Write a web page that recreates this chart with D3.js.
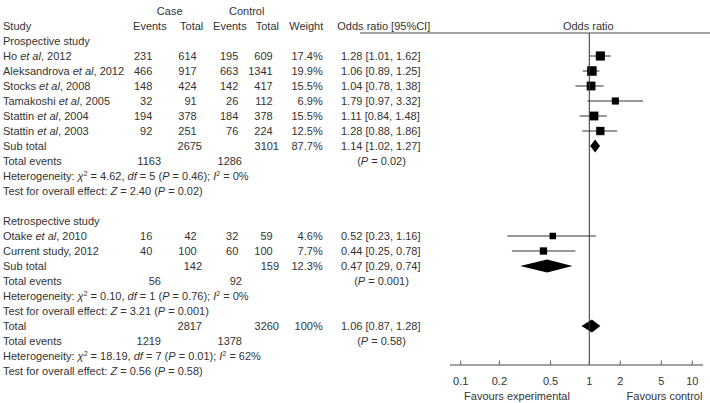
<!DOCTYPE html>
<html>
<head>
<meta charset="utf-8">
<script src="https://cdn.jsdelivr.net/npm/d3@7"></script>
<style>
  body { margin: 0; background: #fff; }
  text { font-family: "Liberation Sans", Arial, sans-serif; font-size: 11px; fill: #333; }
</style>
</head>
<body>
<svg id="chart" width="710" height="403"></svg>
<script>
// study level data
var studies = ["Ho et al, 2012", "Aleksandrova et al, 2012", "Stocks et al, 2008", "Tamakoshi et al, 2005",
  "Stattin et al, 2004", "Stattin et al, 2003", "Otake et al, 2010", "Current study, 2012"];
var studyGroup = [0, 0, 0, 0, 0, 0, 1, 1];
var caseEvents = [231, 466, 148, 32, 194, 92, 16, 40];
var caseTotal = [614, 917, 424, 91, 378, 251, 42, 100];
var ctrlEvents = [195, 663, 142, 26, 184, 76, 32, 60];
var ctrlTotal = [609, 1341, 417, 112, 378, 224, 59, 100];
var weight = [17.4, 19.9, 15.5, 6.9, 15.5, 12.5, 4.6, 7.7];
var oddsRatio = [1.28, 1.06, 1.04, 1.79, 1.11, 1.28, 0.52, 0.44];
var ciLow = [1.01, 0.89, 0.78, 0.97, 0.84, 0.88, 0.23, 0.25];
var ciHigh = [1.62, 1.25, 1.38, 3.32, 1.48, 1.86, 1.16, 0.78];

// subgroup + overall summaries
var groupTitles = ["Prospective study", "Retrospective study"];
var sumLabel = ["Sub total", "Sub total", "Total"];
var sumCaseTotal = [2675, 142, 2817];
var sumCtrlTotal = [3101, 159, 3260];
var sumWeight = ["87.7%", "12.3%", "100%"];
var sumOR = [1.14, 0.47, 1.06];
var sumLow = [1.02, 0.29, 0.87];
var sumHigh = [1.27, 0.74, 1.28];
var sumCaseEvents = [1163, 56, 1219];
var sumCtrlEvents = [1286, 92, 1378];
var hetChi = ["4.62", "0.10", "18.19"];
var hetDf = ["5", "1", "7"];
var hetP = ["0.46", "0.76", "0.01"];
var hetI2 = ["0%", "0%", "62%"];
var testZ = ["2.40", "3.21", "0.56"];
var testP = ["0.02", "0.001", "0.58"];

var axisTicks = [0.1, 0.2, 0.5, 1, 2, 5, 10];

var svg = d3.select("#chart");

var row = d3.scaleLinear().domain([0, 24]).range([11, 371]);
var x = d3.scaleLog().domain([0.1, 1, 10]).range([460.7, 589.3, 692.3]);
var boxSize = d3.scaleSqrt().domain([4.6, 19.9]).range([6.5, 9.5]);

var axisY = 365, topLine = 33;

// text helper: parts = [[string, style]] where style is "" | "i" | "sup"
function rich(px, r, anchor, parts) {
  var t = svg.append("text")
    .attr("x", px)
    .attr("y", row(r) + 4)
    .attr("text-anchor", anchor);
  var up = false;
  parts.forEach(function (p) {
    var s = t.append("tspan").text(p[0]);
    if (p[1] == "i") s.style("font-style", "italic");
    if (p[1] == "sup") {
      s.style("font-size", "7px").attr("dy", -4);
      up = true;
    } else if (up) {
      s.attr("dy", 4);
      up = false;
    }
  });
  return t;
}
function txt(px, r, anchor, s) { return rich(px, r, anchor, [[s, ""]]); }

function studyLabel(s) {
  var k = s.indexOf("et al");
  if (k < 0) return [[s, ""]];
  return [[s.slice(0, k), ""], ["et al", "i"], [s.slice(k + 5), ""]];
}
function ciText(o, l, h) { return o.toFixed(2) + " [" + l.toFixed(2) + ", " + h.toFixed(2) + "]"; }

// headers
txt(169.7, 0, "middle", "Case");
txt(246.7, 0, "middle", "Control");
txt(3, 1, "start", "Study");
txt(166.7, 1, "end", "Events");
txt(203.3, 1, "end", "Total");
txt(246.7, 1, "end", "Events");
txt(279, 1, "end", "Total");
txt(323.3, 1, "end", "Weight");
txt(337.3, 1, "start", "Odds ratio [95%CI]");
txt(x(1) - 1, 1, "middle", "Odds ratio");

svg.append("line")
  .attr("x1", 360).attr("x2", 710)
  .attr("y1", topLine).attr("y2", topLine)
  .style("stroke", "#444").style("stroke-width", 1);

function diamond(i, r) {
  var cy = row(r), h = 6.5;
  var pts = [[x(sumLow[i]), cy], [x(sumOR[i]), cy - h], [x(sumHigh[i]), cy], [x(sumOR[i]), cy + h]];
  svg.append("path")
    .attr("d", "M" + pts.join("L") + "Z")
    .style("fill", "#000");
}

function summaryBlock(g, r) {
  txt(3, r, "start", sumLabel[g]);
  txt(202, r, "end", sumCaseTotal[g]);
  txt(279, r, "end", sumCtrlTotal[g]);
  txt(322.7, r, "end", sumWeight[g]);
  txt(341, r, "start", ciText(sumOR[g], sumLow[g], sumHigh[g]));
  diamond(g, r);
  txt(3, r + 1, "start", "Total events");
  txt(161, r + 1, "end", sumCaseEvents[g]);
  txt(242, r + 1, "end", sumCtrlEvents[g]);
  rich(381.5, r + 1, "middle", [["(", ""], ["P", "i"], [" = " + testP[g] + ")", ""]]);
  rich(3, r + 2, "start", [["Heterogeneity: ", ""], ["\u03c7", "i"], ["2", "sup"], [" = " + hetChi[g] + ", ", ""],
    ["df", "i"], [" = " + hetDf[g] + " (", ""], ["P", "i"], [" = " + hetP[g] + "); ", ""], ["I", "i"], ["2", "sup"],
    [" = " + hetI2[g], ""]]);
  rich(3, r + 3, "start", [["Test for overall effect: ", ""], ["Z", "i"], [" = " + testZ[g] + " (", ""],
    ["P", "i"], [" = " + testP[g] + ")", ""]]);
}

var r = 2;
groupTitles.forEach(function (title, g) {
  txt(3, r, "start", title);
  r++;
  studies.forEach(function (s, i) {
    if (studyGroup[i] != g) return;
    rich(3, r, "start", studyLabel(s));
    txt(152.3, r, "end", caseEvents[i]);
    txt(196.7, r, "end", caseTotal[i]);
    txt(238.3, r, "end", ctrlEvents[i]);
    txt(272.7, r, "end", ctrlTotal[i]);
    txt(322.7, r, "end", weight[i].toFixed(1) + "%");
    txt(341, r, "start", ciText(oddsRatio[i], ciLow[i], ciHigh[i]));

    var cy = row(r), b = boxSize(weight[i]);
    svg.append("line")
      .attr("x1", x(ciLow[i])).attr("x2", x(ciHigh[i]))
      .attr("y1", cy).attr("y2", cy)
      .style("stroke", "#333").style("stroke-width", 1);
    svg.append("rect")
      .attr("x", x(oddsRatio[i]) - b / 2).attr("y", cy - b / 2)
      .attr("width", b).attr("height", b)
      .style("fill", "#000");
    r++;
  });
  summaryBlock(g, r);
  r += 4;
  if (g == 0) r++; // blank row between groups
});
summaryBlock(2, r);

// no-effect line and axis
svg.append("line")
  .attr("x1", x(1)).attr("x2", x(1))
  .attr("y1", topLine).attr("y2", axisY)
  .style("stroke", "#333").style("stroke-width", 1);

svg.append("line")
  .attr("x1", 450).attr("x2", 703)
  .attr("y1", axisY).attr("y2", axisY)
  .style("stroke", "#444").style("stroke-width", 1);

svg.selectAll(".tick")
  .data(axisTicks)
  .enter().append("line")
  .attr("class", "tick")
  .attr("x1", function (d) { return x(d); }).attr("x2", function (d) { return x(d); })
  .attr("y1", axisY - 4.5).attr("y2", axisY)
  .style("stroke", "#666").style("stroke-width", 1);

svg.selectAll(".ticklabel")
  .data(axisTicks)
  .enter().append("text")
  .attr("class", "ticklabel")
  .attr("x", function (d) { return x(d); })
  .attr("y", 384.5)
  .attr("text-anchor", "middle")
  .text(function (d) { return d; });

svg.append("text").attr("x", 517).attr("y", 399.5).attr("text-anchor", "middle").text("Favours experimental");
svg.append("text").attr("x", 664.5).attr("y", 399.5).attr("text-anchor", "middle").text("Favours control");
</script>
</body>
</html>
